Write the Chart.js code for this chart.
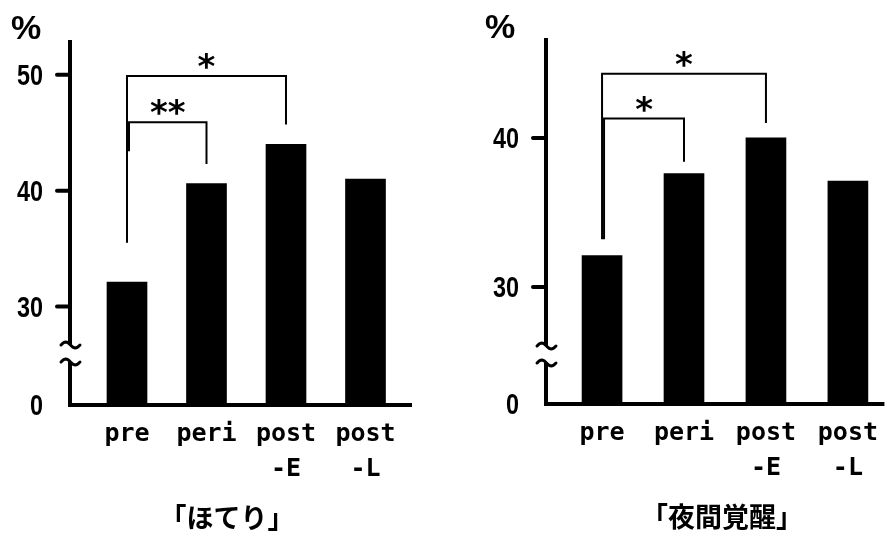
<!DOCTYPE html>
<html>
<head>
<meta charset="utf-8">
<script src="https://cdn.jsdelivr.net/npm/chart.js@4.4.1/dist/chart.umd.min.js"></script>
<style>
  html, body { margin: 0; padding: 0; background: #fff; }
  #wrap { position: relative; width: 890px; height: 535px; overflow: hidden; }
  .panel { position: absolute; top: 0; width: 445px; height: 535px; }
</style>
</head>
<body>
<div id="wrap">
  <div class="panel" style="left:0"><canvas id="hot" width="445" height="535"></canvas></div>
  <div class="panel" style="left:445px"><canvas id="wake" width="445" height="535"></canvas></div>
</div>
<script>
// Groups (multi-line category labels)
const categories = [['pre'], ['peri'], ['post', '-E'], ['post', '-L']];

// Percentage reporting each symptom
const hotFlashValues = [32.1, 40.6, 44.0, 41.0];
const nightWakingValues = [32.1, 37.6, 40.0, 37.1];

// Y tick labels (0 sits below the axis break)
const hotFlashTicks = [0, 30, 40, 50];
const nightWakingTicks = [0, 30, 40];

const panelTitles = ['「ほてり」', '「夜間覚醒」'];

// Significance brackets: from group, to group, bracket level, left leg end, right leg end, marker
const hotFlashBrackets = [
  [0, 2, 49.9, 35.5, 45.7, '*'],
  [0, 1, 45.9, 43.4, 42.3, '**']
];
const nightWakingBrackets = [
  [0, 2, 44.3, 33.2, 41.0, '*'],
  [0, 1, 41.3, 33.2, 38.4, '*']
];

// Linear scale whose values below the axis minimum collapse onto the
// bottom edge, so the 0 baseline sits under the broken axis.
class BrokenLinearScale extends Chart.LinearScale {
  getPixelForValue(value) {
    if (value === null || value === undefined) return NaN;
    return super.getPixelForValue(Math.max(value, this.min));
  }
}
BrokenLinearScale.id = 'brokenLinear';
BrokenLinearScale.defaults = Chart.LinearScale.defaults;
Chart.register(BrokenLinearScale);

const INK = '#000';

function centeredText(ctx, text, cx, cy, align) {
  const m = ctx.measureText(text);
  const h = m.actualBoundingBoxAscent + m.actualBoundingBoxDescent;
  ctx.textAlign = align || 'center';
  ctx.textBaseline = 'alphabetic';
  ctx.fillText(text, cx, cy + h / 2 - m.actualBoundingBoxDescent);
}

function makePanel(canvasId, cfg) {
  const decor = {
    id: 'panelDecor',
    afterDatasetsDraw(chart) {
      const { ctx, chartArea: a } = chart;
      const xs = chart.scales.x, ys = chart.scales.y;
      ctx.save();
      ctx.strokeStyle = INK;
      ctx.fillStyle = INK;

      // y ticks: marks (none at the 0 baseline) and narrow labels
      ctx.font = 'bold 30px "Liberation Sans", Arial, sans-serif';
      ys.ticks.forEach(t => {
        const y = ys.getPixelForValue(t.value);
        if (t.value !== 0) {
          ctx.lineWidth = 4;
          ctx.lineCap = 'round';
          ctx.beginPath();
          ctx.moveTo(a.left - 13, y);
          ctx.lineTo(a.left, y);
          ctx.stroke();
        }
        ctx.save();
        ctx.translate(a.left - 27, y);
        ctx.scale(0.78, 1);
        centeredText(ctx, String(t.value), 0, 0, 'right');
        ctx.restore();
      });

      // vertical axis with break
      const ax = a.left;
      const bTop = a.bottom - cfg.breakGap[0];
      const bBot = a.bottom - cfg.breakGap[1];
      ctx.lineCap = 'butt';
      ctx.lineWidth = 4;
      ctx.beginPath();
      ctx.moveTo(ax, a.top);
      ctx.lineTo(ax, bTop);
      ctx.moveTo(ax, bBot);
      ctx.lineTo(ax, a.bottom + 2);
      ctx.stroke();
      ctx.lineWidth = 3;
      ctx.lineCap = 'round';
      [bTop, bBot].forEach(yy => {
        ctx.beginPath();
        for (let k = 0; k <= 20; k++) {
          const t = k / 20;
          const px = ax - 9 + t * 19;
          const py = yy - 3 * Math.sin(t * Math.PI * 2);
          if (k === 0) ctx.moveTo(px, py); else ctx.lineTo(px, py);
        }
        ctx.stroke();
      });

      // horizontal axis
      ctx.lineCap = 'butt';
      ctx.lineWidth = 4;
      ctx.beginPath();
      ctx.moveTo(ax - 2, a.bottom);
      ctx.lineTo(a.right, a.bottom);
      ctx.stroke();

      // significance brackets
      ctx.lineWidth = 2;
      cfg.brackets.forEach(([i, j, lvl, e1, e2, mark], n) => {
        const x1 = xs.getPixelForValue(i) + (n > 0 ? 2 : 0);
        const x2 = xs.getPixelForValue(j);
        const yt = ys.getPixelForValue(lvl);
        ctx.beginPath();
        ctx.moveTo(x1, ys.getPixelForValue(e1));
        ctx.lineTo(x1, yt);
        ctx.lineTo(x2, yt);
        ctx.lineTo(x2, ys.getPixelForValue(e2));
        ctx.stroke();
        ctx.font = 'bold 34px "DejaVu Sans"';
        centeredText(ctx, mark, (x1 + x2) / 2, yt - 15);
      });

      // unit label
      ctx.font = 'bold 34px "Liberation Sans", Arial, sans-serif';
      centeredText(ctx, '%', cfg.unitPos[0], cfg.unitPos[1]);

      // panel title
      ctx.font = 'bold 27px "Noto Sans CJK JP", sans-serif';
      centeredText(ctx, cfg.title, cfg.titleX, 517);
      ctx.restore();
    }
  };

  return new Chart(document.getElementById(canvasId), {
    type: 'bar',
    data: {
      datasets: [{
        data: cfg.values.map((v, i) => ({ x: i, y: v })),
        backgroundColor: INK,
        borderWidth: 0,
        barThickness: 40
      }]
    },
    options: {
      responsive: false,
      animation: false,
      devicePixelRatio: 1,
      layout: { padding: { top: cfg.top, right: cfg.padRight, left: 0, bottom: 0 } },
      plugins: { legend: { display: false }, tooltip: { enabled: false }, title: { display: false } },
      scales: {
        x: {
          type: 'linear',
          offset: false,
          min: cfg.xRange[0],
          max: cfg.xRange[1],
          afterFit(s) { s.height = cfg.xHeight; },
          grid: { display: false, drawTicks: false },
          border: { display: false },
          ticks: {
            stepSize: 1,
            includeBounds: false,
            autoSkip: false,
            maxRotation: 0,
            padding: 12,
            color: INK,
            font: { family: '"DejaVu Sans Mono", monospace', size: 25, weight: 'bold', lineHeight: 1.4 },
            callback: v => (Number.isInteger(v) && categories[v]) ? categories[v] : ''
          }
        },
        y: {
          type: 'brokenLinear',
          min: cfg.yRange[0],
          max: cfg.yRange[1],
          afterFit(s) { s.width = cfg.axisLeft; },
          afterBuildTicks(s) { s.ticks = cfg.ticks.map(v => ({ value: v })); },
          border: { display: false },
          grid: { display: false },
          ticks: { display: false }
        }
      }
    },
    plugins: [decor]
  });
}

makePanel('hot', {
  values: hotFlashValues,
  ticks: hotFlashTicks,
  brackets: hotFlashBrackets,
  title: panelTitles[0],
  titleX: 227,
  unitPos: [26, 27],
  top: 40,
  padRight: 33,
  xHeight: 130,
  axisLeft: 70,
  xRange: [-0.717, 3.585],
  yRange: [21.5, 53.0],
  breakGap: [60, 43]
});

makePanel('wake', {
  values: nightWakingValues,
  ticks: nightWakingTicks,
  brackets: nightWakingBrackets,
  title: panelTitles[1],
  titleX: 277,
  unitPos: [55, 26],
  top: 38,
  padRight: 0,
  xHeight: 131,
  axisLeft: 101,
  xRange: [-0.684, 3.446],
  yRange: [22.15, 46.7],
  breakGap: [58, 41]
});
</script>
</body>
</html>
